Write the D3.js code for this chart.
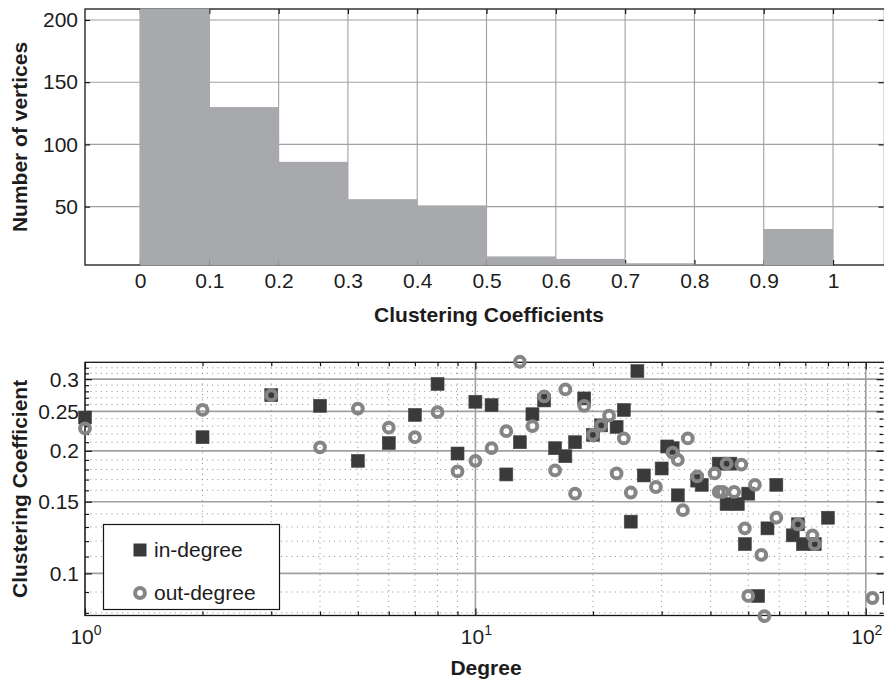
<!DOCTYPE html>
<html><head><meta charset="utf-8">
<script src="https://cdn.jsdelivr.net/npm/d3@7/dist/d3.min.js"></script>
<style>
body{margin:0;background:#fff}
svg{display:block}
text{font-family:"Liberation Sans",Arial,Helvetica,sans-serif;fill:#1c1c1c}
</style>
</head><body>
<svg id="c" width="884" height="682"></svg>
<script>
// ---------- DATA ----------
// Histogram of clustering coefficients
const binStarts = [0, 0.1, 0.2, 0.3, 0.4, 0.5, 0.6, 0.7, 0.8, 0.9];
const binCounts = [232, 130, 86, 56, 51, 10, 8, 4.5, 3.6, 32];
const histXTicks = [0, 0.1, 0.2, 0.3, 0.4, 0.5, 0.6, 0.7, 0.8, 0.9, 1];
const histXTickLabels = ["0", "0.1", "0.2", "0.3", "0.4", "0.5", "0.6", "0.7", "0.8", "0.9", "1"];
const histYTicks = [50, 100, 150, 200];
const histYTickLabels = ["50", "100", "150", "200"];

// Scatter: clustering coefficient vs degree
const inDegree = [1, 2, 3, 4, 5, 6, 7, 8, 9, 10, 11, 12, 13, 14, 15, 16, 17, 18, 19, 20, 21, 23, 24, 25, 26, 27, 30, 31, 32, 33, 37, 38, 42, 45, 44, 47, 50, 49, 53, 56, 59, 65, 67, 69, 74, 80, 115];
const inCC = [0.2415, 0.216, 0.274, 0.258, 0.189, 0.209, 0.245, 0.292, 0.197, 0.264, 0.259, 0.175, 0.210, 0.246, 0.266, 0.203, 0.194, 0.210, 0.269, 0.219, 0.231, 0.229, 0.252, 0.134, 0.314, 0.174, 0.181, 0.205, 0.203, 0.1555, 0.169, 0.165, 0.186, 0.186, 0.148, 0.148, 0.157, 0.118, 0.088, 0.129, 0.165, 0.124, 0.132, 0.118, 0.118, 0.137, 0.087];
const outDegree = [1, 2, 3, 4, 5, 6, 7, 8, 9, 10, 11, 12, 13, 14, 15, 16, 17, 18, 19, 20, 21, 22, 23, 24, 25, 29, 32, 33, 34, 35, 37, 41, 42, 43, 44, 46, 48, 49, 50, 52, 54, 55, 59, 67, 73, 74, 104];
const outCC = [0.227, 0.252, 0.274, 0.204, 0.254, 0.228, 0.216, 0.249, 0.178, 0.189, 0.203, 0.2235, 0.331, 0.230, 0.272, 0.179, 0.283, 0.157, 0.258, 0.219, 0.231, 0.244, 0.176, 0.2145, 0.158, 0.163, 0.198, 0.190, 0.143, 0.2145, 0.173, 0.176, 0.1585, 0.1585, 0.186, 0.1585, 0.185, 0.129, 0.088, 0.165, 0.111, 0.0785, 0.137, 0.132, 0.124, 0.118, 0.087];
const scatterYTicks = [0.1, 0.15, 0.2, 0.25, 0.3];
const scatterYTickLabels = ["0.1", "0.15", "0.2", "0.25", "0.3"];
const scatterYMinor = [0.08, 0.09, 0.11, 0.12, 0.13, 0.14, 0.16, 0.17, 0.18, 0.19, 0.21, 0.22, 0.23, 0.24, 0.26, 0.27, 0.28, 0.29, 0.31, 0.32];
const scatterXTicks = [1, 10, 100];
const scatterXExponents = ["0", "1", "2"];
const scatterXMinor = [2, 3, 4, 5, 6, 7, 8, 9, 20, 30, 40, 50, 60, 70, 80, 90];
const legendLabels = ["in-degree", "out-degree"];

// ---------- DRAW ----------
const svg = d3.select("#c");
const AX = "#161616", GRID = "#a0a0a0", BAR = "#a8a9ac";
const SQ = "#3a3a3a", CIRC = "#858585";

// ===== Top: histogram =====
const T = {l: 85, r: 884.5, t: 9, b: 265};
const hx = d3.scaleLinear().domain([-0.0794, 1.0743]).range([T.l, T.r]);
const hy = d3.scaleLinear().domain([3.1, 208.8]).range([T.b, T.t]);
const hist = svg.append("g");

// grid
hist.append("g").selectAll("line").data(histXTicks).join("line")
  .attr("x1", d => hx(d)).attr("x2", d => hx(d)).attr("y1", T.t).attr("y2", T.b)
  .attr("stroke", GRID).attr("stroke-width", 1.1);
hist.append("g").selectAll("line").data(histYTicks).join("line")
  .attr("x1", T.l).attr("x2", T.r).attr("y1", d => hy(d)).attr("y2", d => hy(d))
  .attr("stroke", GRID).attr("stroke-width", 1.1);

// axes ticks
function styleAxis(g){ g.select(".domain").remove(); g.selectAll(".tick line").attr("stroke", AX).attr("stroke-width", 1.2); g.selectAll("text").attr("font-size", 21).attr("fill", "#1c1c1c").attr("font-family", '"Liberation Sans",Arial,Helvetica,sans-serif'); }
hist.append("g").attr("transform", `translate(0,${T.b})`)
  .call(d3.axisBottom(hx).tickValues(histXTicks).tickSize(-5).tickPadding(8.5).tickFormat((d,i) => histXTickLabels[i]))
  .call(styleAxis);
hist.append("g").attr("transform", `translate(0,${T.t})`)
  .call(d3.axisTop(hx).tickValues(histXTicks).tickSize(-5).tickFormat(""))
  .call(styleAxis);
hist.append("g").attr("transform", `translate(${T.l},0)`)
  .call(d3.axisLeft(hy).tickValues(histYTicks).tickSize(-5).tickPadding(7).tickFormat((d,i) => histYTickLabels[i]))
  .call(styleAxis);
hist.append("g").attr("transform", `translate(${T.r - 1},0)`)
  .call(d3.axisRight(hy).tickValues(histYTicks).tickSize(-5).tickFormat(""))
  .call(styleAxis);

// box
hist.append("rect").attr("x", T.l).attr("y", T.t).attr("width", T.r - T.l).attr("height", T.b - T.t)
  .attr("fill", "none").attr("stroke", AX).attr("stroke-width", 1.3);

// bars (on top, clipped)
svg.append("clipPath").attr("id", "hclip").append("rect")
  .attr("x", T.l).attr("y", T.t - 0.6).attr("width", T.r - T.l).attr("height", T.b - T.t + 1.2);
hist.append("g").attr("clip-path", "url(#hclip)").selectAll("rect").data(binStarts).join("rect")
  .attr("x", d => hx(d)).attr("width", d => hx(d + 0.1) - hx(d))
  .attr("y", (d,i) => hy(binCounts[i])).attr("height", (d,i) => T.b + 1 - hy(binCounts[i]))
  .attr("fill", BAR);

// labels
hist.append("text").attr("x", 489).attr("y", 321.5).attr("text-anchor", "middle")
  .attr("font-size", 21).attr("font-weight", "bold").text("Clustering Coefficients");
hist.append("text").attr("transform", `translate(27,${(T.t + T.b) / 2}) rotate(-90)`)
  .attr("text-anchor", "middle").attr("font-size", 21).attr("font-weight", "bold").text("Number of vertices");

// ===== Bottom: scatter =====
const B = {l: 85, r: 885, t: 362.3, b: 615.5};
const sx = d3.scaleLog().domain([1, 112]).range([B.l, B.r]);
const sy = d3.scaleLog().domain([0.0788, 0.33]).range([B.b, B.t]);
const bot = svg.append("g");

// minor dotted grid
bot.append("g").selectAll("line").data(scatterXMinor).join("line")
  .attr("x1", d => sx(d)).attr("x2", d => sx(d)).attr("y1", B.t).attr("y2", B.b)
  .attr("stroke", "#8c8c8c").attr("stroke-width", 1).attr("stroke-dasharray", "1,4.3");
bot.append("g").selectAll("line").data(scatterYMinor).join("line")
  .attr("x1", B.l).attr("x2", B.r).attr("y1", d => sy(d)).attr("y2", d => sy(d))
  .attr("stroke", "#8c8c8c").attr("stroke-width", 1).attr("stroke-dasharray", "1,4.3");
// major solid grid
bot.append("g").selectAll("line").data(scatterXTicks).join("line")
  .attr("x1", d => sx(d)).attr("x2", d => sx(d)).attr("y1", B.t).attr("y2", B.b)
  .attr("stroke", GRID).attr("stroke-width", 1.6);
bot.append("g").selectAll("line").data(scatterYTicks).join("line")
  .attr("x1", B.l).attr("x2", B.r).attr("y1", d => sy(d)).attr("y2", d => sy(d))
  .attr("stroke", GRID).attr("stroke-width", 1.6);

// ticks
function ticksOn(scale, vals, orient, pos, size){
  const ax = orient === "bottom" ? d3.axisBottom(scale) : orient === "top" ? d3.axisTop(scale) : orient === "left" ? d3.axisLeft(scale) : d3.axisRight(scale);
  const tr = (orient === "bottom" || orient === "top") ? `translate(0,${pos})` : `translate(${pos},0)`;
  bot.append("g").attr("transform", tr).call(ax.tickValues(vals).tickSize(-size).tickFormat("")).call(styleAxis);
}
ticksOn(sx, scatterXMinor, "bottom", B.b, 4);
ticksOn(sx, scatterXMinor, "top", B.t, 4);
ticksOn(sx, scatterXTicks, "bottom", B.b, 7);
ticksOn(sx, scatterXTicks, "top", B.t, 7);
ticksOn(sy, scatterYMinor, "left", B.l, 4);
ticksOn(sy, scatterYMinor, "right", B.r - 1.5, 4);
ticksOn(sy, scatterYTicks, "left", B.l, 7);
ticksOn(sy, scatterYTicks, "right", B.r - 1.5, 7);

// tick labels
bot.append("g").selectAll("text").data(scatterYTicks).join("text")
  .attr("x", 79).attr("y", d => sy(d)).attr("dy", "0.35em").attr("text-anchor", "end")
  .attr("font-size", 21).text((d,i) => scatterYTickLabels[i]);
const xl = bot.append("g").selectAll("text").data(scatterXTicks).join("text")
  .attr("x", d => sx(d) + 1).attr("y", 644).attr("text-anchor", "middle").attr("font-size", 21);
xl.append("tspan").text("10");
xl.append("tspan").attr("font-size", 14).attr("dy", -9).text((d,i) => scatterXExponents[i]);

// box
bot.append("rect").attr("x", B.l).attr("y", B.t).attr("width", B.r - B.l).attr("height", B.b - B.t)
  .attr("fill", "none").attr("stroke", AX).attr("stroke-width", 1.3);

// markers: in-degree squares first, out-degree rings on top
const sqs = 13;
bot.append("g").selectAll("rect").data(inDegree).join("rect")
  .attr("x", d => sx(d) - sqs / 2).attr("y", (d,i) => sy(inCC[i]) - sqs / 2)
  .attr("width", sqs).attr("height", sqs).attr("fill", SQ).attr("stroke", "#4a4a4a").attr("stroke-width", 0.6);
bot.append("g").selectAll("circle").data(outDegree).join("circle")
  .attr("cx", d => sx(d)).attr("cy", (d,i) => sy(outCC[i])).attr("r", 4.9)
  .attr("fill", "none").attr("stroke", CIRC).attr("stroke-width", 4);

// legend
const lg = bot.append("g");
lg.append("rect").attr("x", 103.5).attr("y", 524.5).attr("width", 176).attr("height", 85)
  .attr("fill", "#fff").attr("stroke", AX).attr("stroke-width", 1.2);
lg.append("rect").attr("x", 140 - sqs / 2).attr("y", 550 - sqs / 2).attr("width", sqs).attr("height", sqs).attr("fill", SQ);
lg.append("circle").attr("cx", 140).attr("cy", 593).attr("r", 4.9).attr("fill", "none").attr("stroke", CIRC).attr("stroke-width", 4);
lg.selectAll("text").data(legendLabels).join("text")
  .attr("x", 154).attr("y", (d,i) => i === 0 ? 550 : 593).attr("dy", "0.35em")
  .attr("font-size", 21).text(d => d);

// labels
bot.append("text").attr("x", 486).attr("y", 675).attr("text-anchor", "middle")
  .attr("font-size", 21).attr("font-weight", "bold").text("Degree");
bot.append("text").attr("transform", `translate(27,${(B.t + B.b) / 2}) rotate(-90)`)
  .attr("text-anchor", "middle").attr("font-size", 21).attr("font-weight", "bold").text("Clustering Coefficient");
</script>
</body></html>
